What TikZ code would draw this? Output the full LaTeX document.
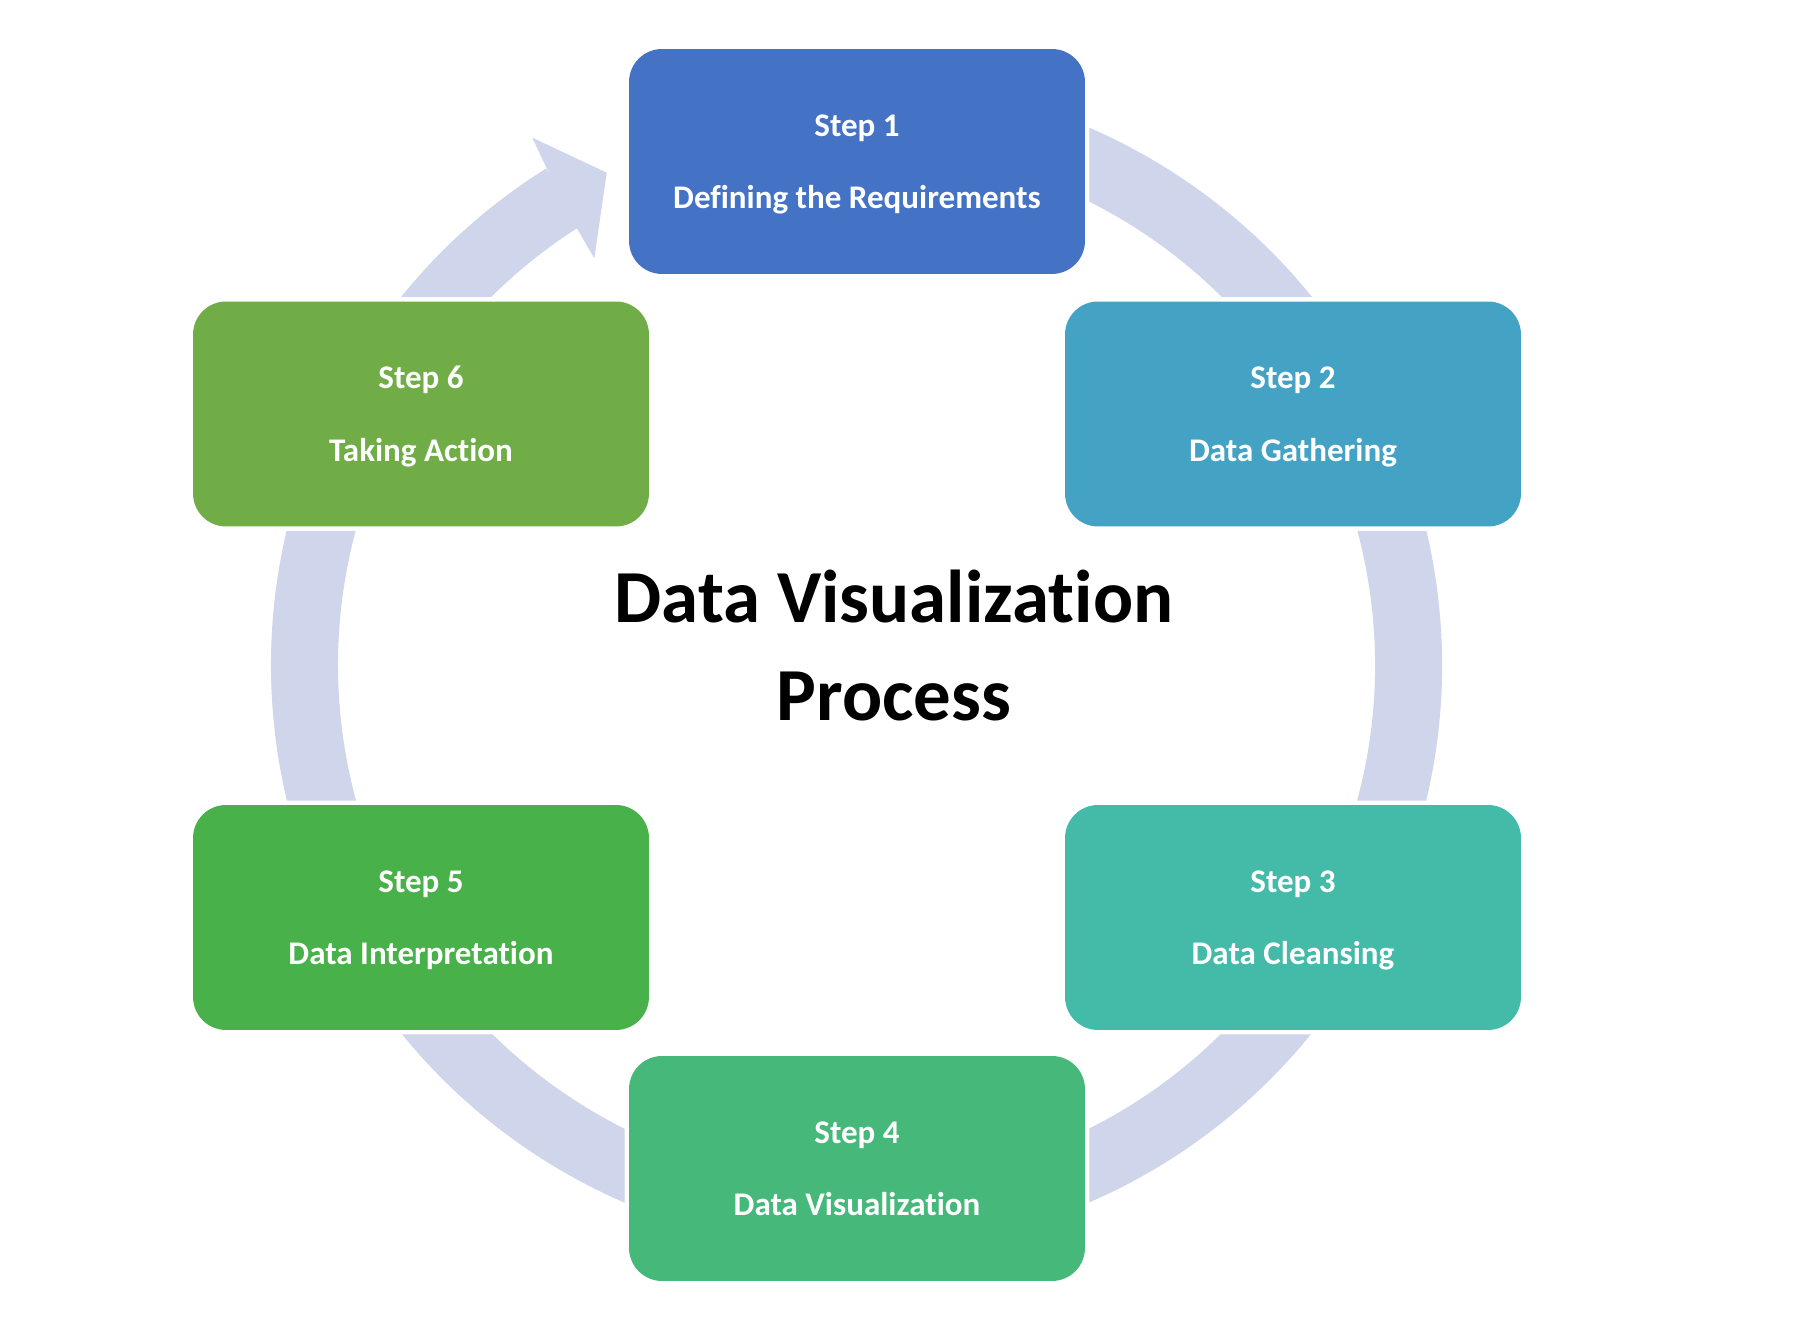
\documentclass[tikz,border=0pt]{standalone}
\usepackage{fontspec}
\setmainfont{Carlito}[Ligatures={NoCommon}]
\definecolor{ringc}{HTML}{CFD5EA}
\definecolor{c1}{HTML}{4472C4}
\definecolor{c2}{HTML}{44A2C4}
\definecolor{c3}{HTML}{44BBA8}
\definecolor{c4}{HTML}{46B87A}
\definecolor{c5}{HTML}{49B14A}
\definecolor{c6}{HTML}{70AD47}
\begin{document}
\begin{tikzpicture}[x=0.02cm,y=0.02cm,
 stepbox/.style={rectangle, rounded corners=0.66cm, minimum width=9.12cm, minimum height=4.5cm, inner sep=0pt, preaction={draw=white, line width=0.18cm}},
 steptxt/.style={anchor=base, inner sep=0pt, text=white, font=\fontsize{18.8pt}{22pt}\selectfont\bfseries},
 titletxt/.style={anchor=base, inner sep=0pt, text=black, font=\fontsize{42.6pt}{50pt}\selectfont\bfseries},
 ringline/.style={draw=ringc, line width=1.34cm}]
\fill[white] (0,0) rectangle (1800,1338);
\useasboundingbox (0,0) rectangle (1800,1338);
\coordinate (c) at (856.5,673);
% cycle ring
\draw[ringline] (c) ++(100:552) arc[start angle=100, end angle=-238, radius=552];
% arrowhead pointing to step 1
\fill[ringc] (546.7,1169.7) -- (532.3,1200.3) -- (606.7,1165.3) -- (594.3,1079.7) -- (577.3,1109) -- cycle;
% boxes
\node[stepbox, fill=c1] (b1) at (857,1176.5) {};
\node[stepbox, fill=c2] (b2) at (1293,924) {};
\node[stepbox, fill=c3] (b3) at (1293,420.5) {};
\node[stepbox, fill=c4] (b4) at (857,169.5) {};
\node[stepbox, fill=c5] (b5) at (421,420.5) {};
\node[stepbox, fill=c6] (b6) at (421,924) {};
% texts
\node[steptxt] (s1a) at ([yshift=-1.75cm]b1.north) {Step 1};
\node[steptxt] (s1b) at ([yshift=-3.2cm]b1.north) {Defining the Requirements};
\node[steptxt] (s2a) at ([yshift=-1.75cm]b2.north) {Step 2};
\node[steptxt] (s2b) at ([yshift=-3.2cm]b2.north) {Data Gathering};
\node[steptxt] (s3a) at ([yshift=-1.75cm]b3.north) {Step 3};
\node[steptxt] (s3b) at ([yshift=-3.2cm]b3.north) {Data Cleansing};
\node[steptxt] (s4a) at ([yshift=-1.75cm]b4.north) {Step 4};
\node[steptxt] (s4b) at ([yshift=-3.2cm]b4.north) {Data Visualization};
\node[steptxt] (s5a) at ([yshift=-1.75cm]b5.north) {Step 5};
\node[steptxt] (s5b) at ([yshift=-3.2cm]b5.north) {Data Interpretation};
\node[steptxt] (s6a) at ([yshift=-1.75cm]b6.north) {Step 6};
\node[steptxt] (s6b) at ([yshift=-3.2cm]b6.north) {Taking Action};
% title
\node[titletxt] (t1) at (894,715) {Data Visualization};
\node[titletxt] (t2) at (894,617) {Process};
\end{tikzpicture}
\end{document}
